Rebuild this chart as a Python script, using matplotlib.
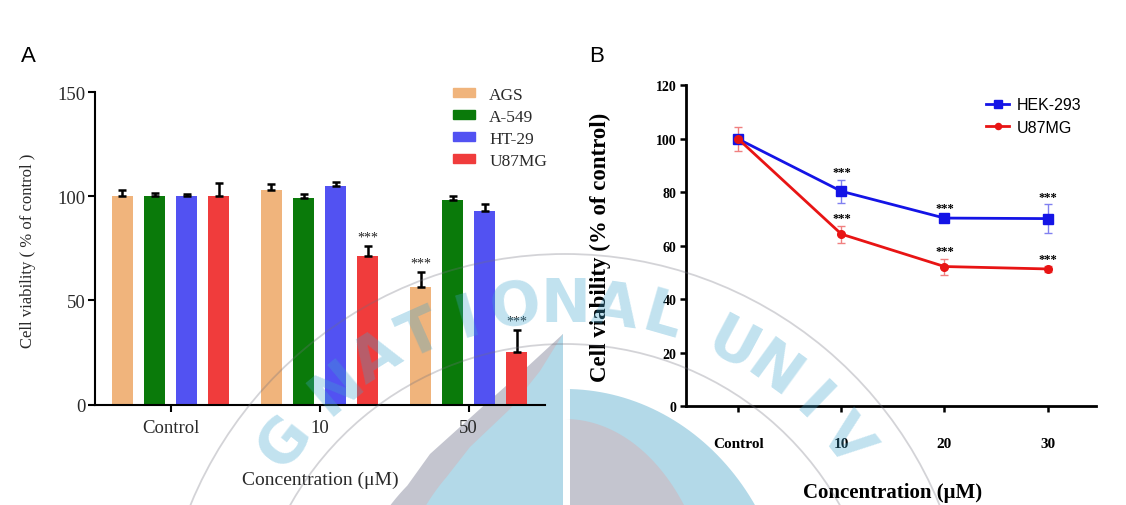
import numpy as np
import matplotlib
matplotlib.use("Agg")
import matplotlib.pyplot as plt
from matplotlib.patches import Patch, Arc, Polygon

# ---- data ----
groups_a = ['Control', '10', '50']
lines_a = ['AGS', 'A-549', 'HT-29', 'U87MG']
ags = [100, 103, 56.5]
ags_err = [2.9, 2.9, 7.2]
a549 = [100, 99, 98.3]
a549_err = [1.6, 2.2, 2.0]
ht29 = [100, 104.8, 92.7]
ht29_err = [1.3, 2.0, 3.7]
u87_a = [100, 71.3, 25.2]
u87_a_err = [6.5, 4.8, 10.4]
stars_a = [[0, 0, 1], [0, 0, 0], [0, 0, 0], [0, 1, 1]]

groups_b = ['Control', '10', '20', '30']
hek = [99.8, 80.3, 70.3, 70.1]
hek_err = [1.5, 4.3, 1.0, 5.4]
u87_b = [99.8, 64.3, 52.2, 51.3]
u87_b_err = [4.6, 3.2, 3.0, 1.0]
stars_b = [0, 1, 1, 1]

W, H = 1126, 506
fig = plt.figure(figsize=(W / 100, H / 100), dpi=100)

def fx(px):
    return px / W

def fy(py):
    return 1 - py / H

serif = 'Liberation Serif'
col_a = ['#f0b47c', '#0a7a0a', '#5252f2', '#f03c3c']
txt_a = '#2a2a2a'

# ---- watermark background (emblem centre) ----
bg = fig.add_axes([0, 0, 1, 1], zorder=0)
bg.set_xlim(0, W)
bg.set_ylim(H, 0)
bg.axis('off')
cx, cy = 565, 640

def half_ell(a, b, left, n=60):
    t = np.linspace(0, np.pi / 2, n)
    xs = a * np.sin(t)
    ys = -b * np.cos(t)
    if left:
        xs = -xs
    return np.column_stack([cx + xs, cy + ys])

blue_c = '#b3d9e8'
gray_c = '#c4c5cf'
# left half: gray rim, blue inner, with needle tip
rim = half_ell(220, 220, True)
inner = half_ell(175, 220, True)
tip = np.array([[563, 335], [540, 372], [510, 410], [470, 448]])
bg.add_patch(Polygon(np.vstack([[[563, 335]], [[525, 370], [480, 410], [430, 455]],
                                rim[30:], [[cx - 220, H + 10], [563, H + 10]]]),
                     closed=True, color=gray_c, lw=0))
bg.add_patch(Polygon(np.vstack([tip, inner[28:], [[cx - 175, H + 10], [563, H + 10]]]),
                     closed=True, color=blue_c, lw=0))
# right half: blue rim, gray inner
rim_r = half_ell(225, 250, False)
inner_r = half_ell(150, 220, False)
bg.add_patch(Polygon(np.vstack([[[570, cy - 250]], rim_r, [[cx + 225, H + 10], [570, H + 10]]]),
                     closed=True, color=blue_c, lw=0))
bg.add_patch(Polygon(np.vstack([[[570, cy - 220]], inner_r, [[cx + 150, H + 10], [570, H + 10]]]),
                     closed=True, color=gray_c, lw=0))

# ---- panel A ----
axa = fig.add_axes([fx(95), fy(405.7), fx(545 - 95), fy(93) - fy(405.7)], zorder=2)
axa.patch.set_alpha(0)
x = np.arange(len(groups_a))
pitch = 0.215
bw = 0.145
vals = [ags, a549, ht29, u87_a]
errs = [ags_err, a549_err, ht29_err, u87_a_err]
for i, (v, e) in enumerate(zip(vals, errs)):
    xi = x + (i - 1.5) * pitch
    axa.bar(xi, v, width=bw, color=col_a[i], label=lines_a[i], zorder=2)
    axa.errorbar(xi, v, yerr=[np.zeros(len(e)), e], fmt='none', ecolor='black',
                 elinewidth=1.8, capsize=3.2, capthick=1.8, zorder=3)
    for j in range(len(v)):
        if stars_a[i][j]:
            axa.text(xi[j], v[j] + e[j] + 4.3, '***', ha='center', va='center',
                     fontsize=10, family=serif, color='#222222')
axa.set_xlim(-0.507, 2.513)
axa.set_ylim(0, 150)
axa.set_yticks([0, 50, 100, 150])
axa.set_xticks(x)
axa.set_xticklabels(groups_a)
for s in ['top', 'right']:
    axa.spines[s].set_visible(False)
for s in ['left', 'bottom']:
    axa.spines[s].set_linewidth(1.5)
axa.tick_params(direction='out', length=5, width=1.5, pad=2, labelsize=13.5,
                labelcolor=txt_a)
axa.tick_params(axis='x', pad=5)
for lab in axa.get_xticklabels() + axa.get_yticklabels():
    lab.set_family(serif)
handles = [Patch(color=c) for c in col_a]
axa.legend(handles, lines_a, loc='upper left', bbox_to_anchor=(fx(437), fy(72)),
           bbox_transform=fig.transFigure, frameon=False, prop={'family': serif, 'size': 12.5},
           handlelength=1.3, handleheight=0.45, handletextpad=0.8, labelspacing=0.35,
           labelcolor=txt_a)
fig.text(fx(28), fy(251), 'Cell viability ( % of control )', rotation=90, ha='center',
         va='center', family=serif, fontsize=12, color=txt_a)
fig.text(fx(320), fy(480), 'Concentration (\u03bcM)', ha='center', va='center',
         family=serif, fontsize=14, color=txt_a)
fig.text(fx(28), fy(57), 'A', ha='center', va='center', family='Liberation Sans', fontsize=16)

# ---- panel B ----
axb = fig.add_axes([fx(686), fy(407.3), fx(1096 - 686), fy(86) - fy(407.3)], zorder=2)
axb.patch.set_alpha(0)
xb = np.arange(len(groups_b))
axb.errorbar(xb, hek, yerr=hek_err, fmt='none', ecolor='#8080f0', elinewidth=1,
             capsize=3, capthick=1, zorder=2)
axb.errorbar(xb, u87_b, yerr=u87_b_err, fmt='none', ecolor='#f08080', elinewidth=1,
             capsize=3, capthick=1, zorder=2)
axb.plot(xb, hek, color='#1414e6', lw=2, marker='s', ms=7, label='HEK-293', zorder=3)
axb.plot(xb, u87_b, color='#e81414', lw=2, marker='o', ms=5.5, label='U87MG', zorder=3)
for j in range(len(xb)):
    if stars_b[j]:
        axb.text(xb[j], hek[j] + hek_err[j] + 2.8, '***', ha='center', va='center',
                 fontsize=9, family=serif, weight='bold')
        axb.text(xb[j], u87_b[j] + u87_b_err[j] + 2.8, '***', ha='center', va='center',
                 fontsize=9, family=serif, weight='bold')
axb.set_xlim(-0.508, 3.47)
axb.set_ylim(0, 120)
axb.set_yticks(np.arange(0, 121, 20))
axb.set_xticks(xb)
axb.set_xticklabels(groups_b)
for s in ['top', 'right']:
    axb.spines[s].set_visible(False)
for s in ['left', 'bottom']:
    axb.spines[s].set_linewidth(2)
axb.tick_params(direction='out', length=4, width=1.8, labelsize=10)
axb.tick_params(axis='y', pad=3)
axb.tick_params(axis='x', pad=18, labelsize=11)
for lab in axb.get_xticklabels() + axb.get_yticklabels():
    lab.set_family(serif)
    lab.set_weight('bold')
axb.legend(loc='upper left', bbox_to_anchor=(fx(972), fy(84)), bbox_transform=fig.transFigure,
           frameon=False, prop={'family': 'Liberation Sans', 'size': 11.5},
           handlelength=1.4, handletextpad=0.5, labelspacing=0.45, markerscale=0.8)
fig.text(fx(600), fy(247), 'Cell viability (% of control)', rotation=90, ha='center',
         va='center', family=serif, fontsize=16.5, weight='bold')
fig.text(fx(893), fy(493), 'Concentration (\u03bcM)', ha='center', va='center',
         family=serif, fontsize=15, weight='bold')
fig.text(fx(597), fy(57), 'B', ha='center', va='center', family='Liberation Sans', fontsize=16)

# ---- watermark overlay: rings and lettering ----
wm = fig.add_axes([0, 0, 1, 1], zorder=10)
wm.set_xlim(0, W)
wm.set_ylim(H, 0)
wm.axis('off')
ox, oy = 565, 660
for r in [405, 315]:
    wm.add_patch(Arc((ox, oy), 2 * r, 2 * r, theta1=-170, theta2=-10, color='#70707c',
                     lw=1.3, alpha=0.3))
text = 'BUKYONG NATIONAL UNIVERSITY'

def gap(a, b):
    # angular step between neighbouring glyphs (a space is half a letter wide)
    return 6.0 if ' ' in (a, b) else 8.0

idx_n = text.index('NATIONAL')
angles = {idx_n: 130.0}
for k in range(idx_n + 1, len(text)):
    angles[k] = angles[k - 1] - gap(text[k - 1], text[k])
for k in range(idx_n - 1, -1, -1):
    angles[k] = angles[k + 1] + gap(text[k], text[k + 1])
for k, ch in enumerate(text):
    t = np.radians(angles[k])
    px, py = ox + 355 * np.cos(t), oy - 355 * np.sin(t)
    if ch != ' ' and py < 470:
        wm.text(px, py, ch, rotation=angles[k] - 90, ha='center', va='center', fontsize=43,
                weight='bold', family='DejaVu Sans', color='#3fa5cf', alpha=0.32)

fig.savefig('out.png', dpi=100)
